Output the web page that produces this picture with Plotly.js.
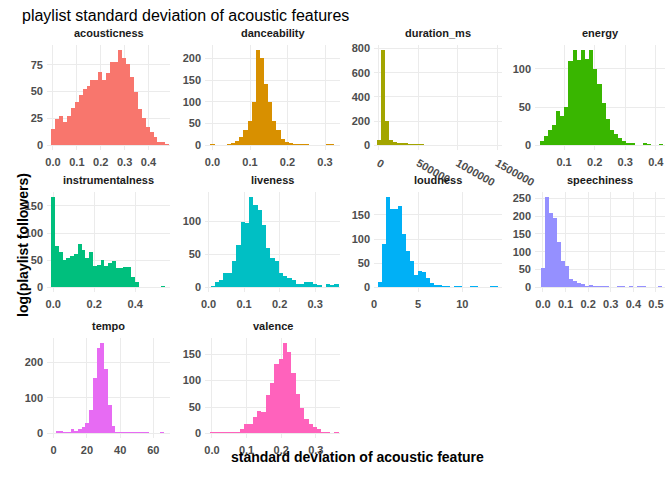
<!DOCTYPE html>
<html><head><meta charset="utf-8">
<script src="https://cdn.plot.ly/plotly-3.0.1.min.js"></script>
<style>body{margin:0}#plot{width:672px;height:480px}</style>
</head><body><div id="plot"></div>
<script>
// facet names, colours, bin layout and bin counts (30 bins each)
const features = ['acousticness','danceability','duration_ms','energy','instrumentalness','liveness','loudness','speechiness','tempo','valence'];
const colors = ['#F8766D','#D89000','#A3A500','#39B600','#00BF7D','#00BFC4','#00B0F6','#9590FF','#E76BF3','#FF62BC'];
const binStart = [-0.008, -0.0055, -25000, 0.02, -0.009, 0.006, 0.5, -0.009, -1.1, -0.006];
const binWidth = [0.0165, 0.011, 50000, 0.0135, 0.0185, 0.012, 0.45, 0.0178, 2.25, 0.0124];
const counts = [
  [15,24,27,22,27,35,40,47,52,55,61,61,68,61,67,78,78,89,81,76,64,50,34,25,17,12,8,3,3,1],
  [2,0,0,1,2,5,10,20,35,55,100,220,200,140,100,55,35,15,8,5,3,3,2,2,0,0,0,0,2,2],
  [40,790,200,40,25,20,18,15,10,12,8,7,6,6,5,5,5,5,5,4,4,4,3,0,0,0,0,3,3,3],
  [5,12,20,27,45,38,50,110,125,112,125,113,125,100,80,55,35,20,15,10,5,3,3,0,0,3,2,0,0,2],
  [167,77,65,50,55,57,62,80,68,55,65,40,42,50,40,45,48,35,35,38,37,20,10,0,0,0,0,0,0,2],
  [2,8,12,22,22,40,65,100,98,138,125,117,95,60,45,40,22,18,15,12,6,6,8,8,6,3,0,5,3,5],
  [12,90,188,162,162,168,110,75,55,25,35,32,20,10,5,5,3,2,0,2,2,0,0,2,2,0,0,0,2,2],
  [55,255,208,196,128,75,60,25,17,12,10,5,8,5,5,5,5,0,0,3,3,2,3,2,3,5,0,0,0,3],
  [2,8,7,5,5,12,8,12,18,30,65,155,240,255,180,80,20,5,5,3,3,3,3,3,3,3,0,0,0,3],
  [2,3,3,3,2,3,2,8,18,18,32,42,40,72,95,132,140,172,155,115,75,48,28,18,13,8,3,2,0,2]
];
const xRanges = [[-0.025,0.49],[-0.02,0.34],[-60000,1.56e6],[0.005,0.43],[-0.03,0.57],[-0.01,0.37],[0,14.5],[-0.035,0.54],[-4,70],[-0.02,0.37]];
const xDtick = [0.1,0.1,500000,0.1,0.2,0.1,5,0.1,20,0.1];
const xFormat = ['.1f','.1f','d','.1f','.1f','.1f','d','.1f','d','.1f'];
const yDtick = [25,50,200,50,50,50,50,50,100,50];

const W = 672, H = 480;
const colPx = [[47,170],[205,340],[374,502],[535,665]];
const rowPx = [[45,150],[192,292],[338,438]];
const fx = p => p / W, fy = p => 1 - p / H;
const tickFont = {family:'Liberation Sans, Arial, sans-serif', size:11, color:'#4d4d4d', weight:'bold'};

const traces = [], annotations = [];
const layout = {
  width: W, height: H, margin:{l:0,r:0,t:0,b:0},
  paper_bgcolor:'white', plot_bgcolor:'white', showlegend:false, bargap:0,
  font:{family:'Liberation Sans, Arial, sans-serif'},
  title:{text:'playlist standard deviation of acoustic features', x:22/W, xanchor:'left', y:1-15/H, yanchor:'middle',
         font:{size:16, color:'#000'}}
};

features.forEach((name, i) => {
  const r = Math.floor(i/4), c = i % 4, n = i+1, s = n===1 ? '' : n;
  const xs = counts[i].map((_, k) => binStart[i] + (k+0.5)*binWidth[i]);
  const ymax = Math.max(...counts[i]);
  traces.push({type:'bar', x:xs, y:counts[i], width:binWidth[i], marker:{color:colors[i], line:{width:0}},
               xaxis:'x'+s, yaxis:'y'+s});
  layout['xaxis'+s] = {domain:[fx(colPx[c][0]), fx(colPx[c][1])], anchor:'y'+s, range:xRanges[i],
              tick0:0, dtick:xDtick[i], tickformat:xFormat[i], ticklabelstandoff:4,
              showgrid:true, gridcolor:'#ebebeb', zeroline:false, tickfont:tickFont, ticks:'', showline:false};
  layout['yaxis'+s] = {domain:[fy(rowPx[r][1]), fy(rowPx[r][0])], anchor:'x'+s, dtick:yDtick[i],
              range:[-ymax*0.05, ymax*1.05], ticklabelstandoff:3,
              showgrid:true, gridcolor:'#ebebeb', zeroline:false, tickfont:tickFont, ticks:'', showline:false};
  annotations.push({xref:'paper', yref:'paper', x:fx((colPx[c][0]+colPx[c][1])/2), y:fy(rowPx[r][0]-4),
                    xanchor:'center', yanchor:'bottom', text:'<b>'+name+'</b>', showarrow:false,
                    font:{size:11, color:'#1a1a1a'}});
});

annotations.push({xref:'paper', yref:'paper', x:fx(357), y:fy(467), text:'<b>standard deviation of acoustic feature</b>',
                  showarrow:false, font:{size:14, color:'#000'}});
annotations.push({xref:'paper', yref:'paper', x:fx(13), y:fy(245), textangle:-90, text:'<b>log(playlist followers)</b>',
                  showarrow:false, font:{size:14, color:'#000'}});
layout.annotations = annotations;

Plotly.newPlot('plot', traces, layout, {displayModeBar:false, staticPlot:true});
</script></body></html>
